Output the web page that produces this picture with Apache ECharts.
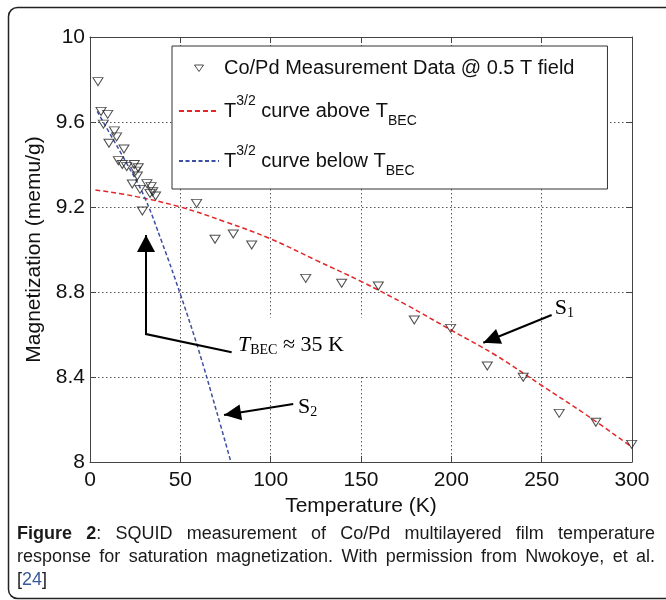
<!DOCTYPE html>
<html>
<head>
<meta charset="utf-8">
<title>SQUID magnetization vs temperature</title>
<script src="https://cdn.jsdelivr.net/npm/echarts@6/dist/echarts.min.js"></script>
<style>
  html, body { margin: 0; padding: 0; background: #fff; }
  #chart { width: 666px; height: 600px; }
</style>
</head>
<body>
<div id="chart"></div>
<script>
const measT = [4.4, 6.1, 9.8, 7.4, 10.5, 13.5, 14.7, 18.8, 15.7, 17.9, 20.3, 24.5, 26.7, 25.3, 26.2,
  23.4, 31.5, 27.7, 33.8, 34.7, 33.2, 36.3, 29.0, 59, 69.2, 79.3, 89.5, 119.4, 139.3, 159.6,
  179.5, 199.6, 219.9, 239.8, 259.7, 280, 299.8];
const measM = [9.79, 9.65, 9.636, 9.59, 9.50, 9.558, 9.53, 9.473, 9.418, 9.40, 9.39, 9.40, 9.385, 9.369, 9.346,
  9.308, 9.31, 9.283, 9.296, 9.272, 9.264, 9.252, 9.181, 9.217, 9.048, 9.073, 9.021, 8.864, 8.841, 8.828,
  8.668, 8.629, 8.452, 8.399, 8.229, 8.187, 8.083];

// T^(3/2) fit above T_BEC (red dashed), read at several temperatures
const aboveT = [3, 25, 50, 75, 100, 125, 150, 175, 200, 225, 250, 275, 300];
const aboveM = [9.28, 9.25, 9.20, 9.13, 9.05, 8.95, 8.85, 8.74, 8.62, 8.50, 8.36, 8.22, 8.07];

// T^(3/2) fit below T_BEC (blue dashed)
const belowT = [4, 10, 20, 30, 40, 50, 60, 70, 78];
const belowM = [9.65, 9.56, 9.41, 9.25, 9.03, 8.79, 8.53, 8.24, 8.0];

const seriesNames = ['Co/Pd Measurement Data @ 0.5 T field', 'above', 'below'];
const legendLabels = {
  'Co/Pd Measurement Data @ 0.5 T field': 'Co/Pd Measurement Data @ 0.5 T field',
  'above': '{t|T}{sup|3/2}{t| curve above T}{sub|BEC}',
  'below': '{t|T}{sup|3/2}{t| curve below T}{sub|BEC}'
};

// annotation anchors in data coordinates
const becArrow = { tip: [31, 9.068], bend: [31, 8.602], tail: [78.4, 8.516], label: [81.9, 8.551] };
const becBox = [[78.6, 8.68], [167, 8.405]];
const s1Arrow = { tip: [217.7, 8.561], tail: [255.5, 8.692], label: [257.3, 8.725] };
const s2Arrow = { tip: [74.2, 8.221], tail: [112.5, 8.273], label: [115.1, 8.259] };

const sans = 'Liberation Sans';
const serif = 'Liberation Serif';
const axisColor = '#444';

const zip = (xs, ys) => xs.map((x, i) => [x, ys[i]]);

const chart = echarts.init(document.getElementById('chart'));

const axisCommon = {
  type: 'value',
  axisLine: { show: true, onZero: false, lineStyle: { color: axisColor, width: 1 } },
  axisTick: { show: true, inside: true, length: 6, lineStyle: { color: axisColor } }
};

// legend icon box is 40x7; the stray moveTo points keep the triangle from being stretched
const downTriangle = 'path://M0,0M40,7M15.5,0.5L24.5,0.5L20,7Z';
const noSymbol = { color: 'rgba(0,0,0,0)', borderColor: 'rgba(0,0,0,0)', borderWidth: 0 };

const option = {
  animation: false,
  backgroundColor: '#fff',
  grid: { left: 90, right: 34, top: 37, bottom: 138 },
  legend: {
    orient: 'vertical',
    left: 172,
    top: 46,
    itemWidth: 40,
    itemHeight: 7,
    itemGap: 16,
    padding: [12, 33, 11, 6],
    backgroundColor: '#fff',
    borderColor: '#333',
    borderWidth: 1,
    selectedMode: false,
    data: [
      { name: seriesNames[0], icon: downTriangle,
        itemStyle: { color: 'rgba(0,0,0,0)', borderColor: '#222', borderWidth: 1 } },
      { name: seriesNames[1], itemStyle: noSymbol },
      { name: seriesNames[2], itemStyle: noSymbol }
    ],
    formatter: name => legendLabels[name],
    textStyle: {
      fontFamily: sans,
      fontSize: 20,
      lineHeight: 20,
      color: '#111',
      rich: {
        t: { fontFamily: sans, fontSize: 20, lineHeight: 34, color: '#111' },
        sup: { fontFamily: sans, fontSize: 14, lineHeight: 14, verticalAlign: 'top', color: '#111' },
        sub: { fontFamily: sans, fontSize: 14, lineHeight: 16, verticalAlign: 'bottom', color: '#111' }
      }
    }
  },
  xAxis: [
    Object.assign({}, axisCommon, {
      position: 'bottom',
      min: 0, max: 300, interval: 50,
      name: 'Temperature (K)',
      nameLocation: 'middle',
      nameGap: 34,
      nameTextStyle: { fontFamily: sans, fontSize: 21, color: '#111' },
      axisLabel: { fontFamily: sans, fontSize: 21, color: '#111', margin: 8 },
      splitLine: { show: true, lineStyle: { color: '#555', type: [1.5, 2.5], width: 1 } }
    }),
    Object.assign({}, axisCommon, {
      position: 'top',
      min: 0, max: 300, interval: 50,
      axisLabel: { show: false },
      splitLine: { show: false }
    })
  ],
  yAxis: [
    Object.assign({}, axisCommon, {
      position: 'left',
      min: 8, max: 10, interval: 0.4,
      name: 'Magnetization (memu/g)',
      nameLocation: 'middle',
      nameGap: 35,
      nameTextStyle: { fontFamily: sans, fontSize: 21, color: '#111' },
      axisLabel: {
        fontFamily: sans, fontSize: 21, color: '#111', margin: 5,
        showMinLabel: true, showMaxLabel: true,
        formatter: v => {
          const r = Math.round(v * 10) / 10;
          return r % 1 === 0 ? String(r) : r.toFixed(1);
        }
      },
      splitLine: { show: true, lineStyle: { color: '#555', type: [1.5, 2.5], width: 1 } }
    }),
    Object.assign({}, axisCommon, {
      position: 'right',
      min: 8, max: 10, interval: 0.4,
      axisLabel: { show: false },
      splitLine: { show: false }
    })
  ],
  series: [
    {
      name: seriesNames[0],
      type: 'scatter',
      data: zip(measT, measM),
      symbol: 'triangle',
      symbolSize: [10, 8],
      symbolRotate: 180,
      itemStyle: { color: 'rgba(0,0,0,0)', borderColor: '#222', borderWidth: 1 },
      z: 4
    },
    {
      name: seriesNames[1],
      type: 'line',
      data: zip(aboveT, aboveM),
      smooth: 0.4,
      symbol: 'none',
      lineStyle: { color: '#e3262a', width: 1.5, type: [5, 3] },
      itemStyle: { color: '#e3262a' },
      z: 3
    },
    {
      name: seriesNames[2],
      type: 'line',
      data: zip(belowT, belowM),
      smooth: 0.4,
      symbol: 'none',
      lineStyle: { color: '#3d4fa0', width: 1.5, type: [4, 2.5] },
      itemStyle: { color: '#3d4fa0' },
      z: 3
    }
  ]
};

chart.setOption(option);

// ---- annotations, frame and caption ----
const px = p => chart.convertToPixel({ gridIndex: 0 }, p);

function arrowHead(tip, from, len, half) {
  const dx = tip[0] - from[0], dy = tip[1] - from[1];
  const d = Math.sqrt(dx * dx + dy * dy);
  const ux = dx / d, uy = dy / d;
  const bx = tip[0] - ux * len, by = tip[1] - uy * len;
  return [tip, [bx - uy * half, by + ux * half], [bx + uy * half, by - ux * half]];
}

function arrow(points, len, half) {
  const pts = points.map(px);
  const tip = pts[pts.length - 1];
  const prev = pts[pts.length - 2];
  return [
    { type: 'polyline', z: 20, shape: { points: pts }, style: { stroke: '#000', lineWidth: 2, fill: null } },
    { type: 'polygon', z: 21, shape: { points: arrowHead(tip, prev, len, half) }, style: { fill: '#000' } }
  ];
}

function serifLabel(pos, main, sub, tail) {
  const p = px(pos);
  return {
    type: 'text', z: 22, x: p[0], y: p[1],
    style: {
      text: '{m|' + main + '}{s|' + sub + '}' + (tail ? '{n|' + tail + '}' : ''),
      verticalAlign: 'middle',
      rich: {
        m: { fontFamily: serif, fontSize: 22, lineHeight: 24, fontStyle: tail ? 'italic' : 'normal', fill: '#000' },
        s: { fontFamily: serif, fontSize: 14, lineHeight: 14, verticalAlign: 'bottom', fill: '#000' },
        n: { fontFamily: serif, fontSize: 22, lineHeight: 24, fill: '#000' }
      }
    }
  };
}

const b0 = px(becBox[0]), b1 = px(becBox[1]);

// caption, justified like the source page
const captionSize = 18;
const captionLeft = 17, captionRight = 655;
const captionLines = [
  { y: 534, justify: true, words: ['{b|Figure}', '{b|2}:', 'SQUID', 'measurement', 'of', 'Co/Pd', 'multilayered', 'film', 'temperature'] },
  { y: 557, justify: true, words: 'response for saturation magnetization. With permission from Nwokoye, et al.'.split(' ') },
  { y: 580, justify: false, words: ['[{a|24}]'] }
];
const ctx = document.createElement('canvas').getContext('2d');
function wordWidth(w) {
  let width = 0;
  w.split(/(\{\w\|[^}]*\})/).forEach(part => {
    if (!part) return;
    const m = part.match(/^\{(\w)\|([^}]*)\}$/);
    ctx.font = (m && m[1] === 'b' ? 'bold ' : '') + captionSize + 'px "' + sans + '"';
    width += ctx.measureText(m ? m[2] : part).width;
  });
  return width;
}
const captionRich = {
  b: { fontFamily: sans, fontSize: captionSize, fontWeight: 'bold', fill: '#1a1a1a' },
  a: { fontFamily: sans, fontSize: captionSize, fill: '#3a5a9c' }
};
const captionEls = [];
captionLines.forEach(line => {
  const widths = line.words.map(wordWidth);
  const total = widths.reduce((a, b) => a + b, 0);
  const space = ctx.measureText(' ').width;
  const gap = line.justify && line.words.length > 1
    ? (captionRight - captionLeft - total) / (line.words.length - 1) : space;
  let x = captionLeft;
  line.words.forEach((w, i) => {
    captionEls.push({
      type: 'text', x: x, y: line.y, z: 5,
      style: {
        text: w, fontFamily: sans, fontSize: captionSize, fill: '#1a1a1a',
        verticalAlign: 'middle', rich: captionRich
      }
    });
    x += widths[i] + gap;
  });
});

chart.setOption({
  graphic: [
    {
      type: 'rect', z: 1, silent: true,
      shape: { x: 8.5, y: 7.5, width: 700, height: 591, r: 9 },
      style: { fill: null, stroke: '#222', lineWidth: 1.5 }
    },
    {
      type: 'rect', z: 5, silent: true,
      shape: { x: b0[0], y: b0[1], width: b1[0] - b0[0], height: b1[1] - b0[1] },
      style: { fill: '#fff' }
    },
    ...arrow([becArrow.tail, becArrow.bend, becArrow.tip], 17, 9),
    serifLabel(becArrow.label, 'T', 'BEC', ' \u2248 35 K'),
    ...arrow([s2Arrow.tail, s2Arrow.tip], 17, 8),
    serifLabel(s2Arrow.label, 'S', '2'),
    ...arrow([s1Arrow.tail, s1Arrow.tip], 17, 8),
    serifLabel(s1Arrow.label, 'S', '1'),
    ...captionEls
  ]
});
</script>
</body>
</html>
